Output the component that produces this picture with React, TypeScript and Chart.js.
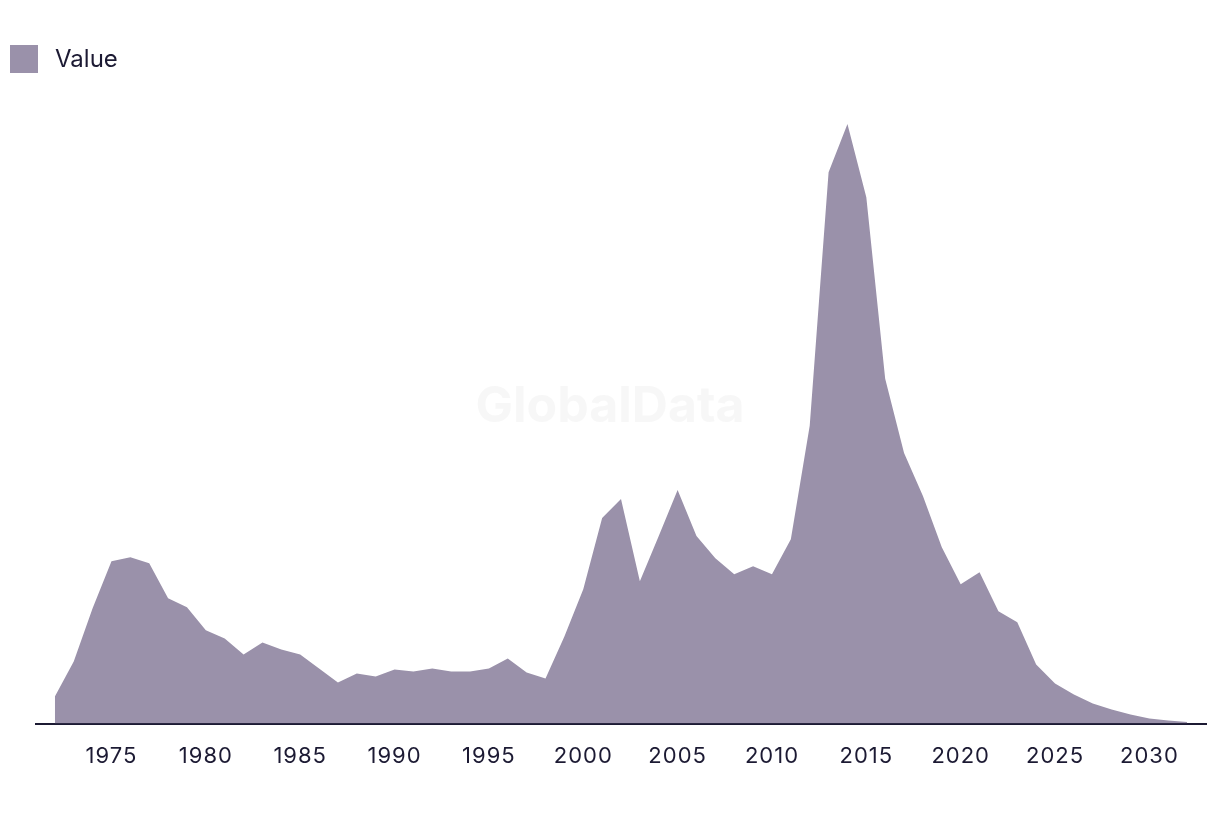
import React, { useEffect, useRef } from "react";
import { Chart, registerables } from "chart.js";

Chart.register(...registerables);

const years: string[] = [
  "1971", "1972", "1973", "1974", "1975", "1976", "1977", "1978", "1979", "1980",
  "1981", "1982", "1983", "1984", "1985", "1986", "1987", "1988", "1989", "1990",
  "1991", "1992", "1993", "1994", "1995", "1996", "1997", "1998", "1999", "2000",
  "2001", "2002", "2003", "2004", "2005", "2006", "2007", "2008", "2009", "2010",
  "2011", "2012", "2013", "2014", "2015", "2016", "2017", "2018", "2019", "2020",
  "2021", "2022", "2023", "2024", "2025", "2026", "2027", "2028", "2029", "2030",
  "2031", "2032", "2033",
];

const values: (number | null)[] = [
  null, 27, 62, 115, 162, 166, 160, 125, 116, 93,
  85, 69, 81, 74, 69, 55, 41, 50, 47, 54,
  52, 55, 52, 52, 55, 65, 51, 45, 87, 134,
  205, 224, 142, 187, 233, 187, 165, 149, 157, 149,
  184, 297, 550, 598, 525, 344, 270, 227, 176, 139,
  151, 112, 101, 59, 40, 29, 20, 14, 9, 5,
  3, 1.5, null,
];

const seriesName = "Value";
const fillColor = "rgb(154,145,170)";
const inkColor = "#1c1a33";

const watermark = {
  id: "watermark",
  beforeDraw(chart: any) {
    const ctx = chart.ctx;
    try { (ctx as any).letterSpacing = "1px"; } catch (e) {}
  },
  beforeDatasetsDraw(chart: any) {
    const { ctx } = chart;
    ctx.save();
    try { (ctx as any).letterSpacing = "0px"; } catch (e) {}
    ctx.font = "bold 50px Inter, 'Noto Sans', sans-serif";
    ctx.fillStyle = "rgba(238,238,238,0.45)";
    ctx.textAlign = "center";
    ctx.textBaseline = "middle";
    ctx.fillText("GlobalData", 610, 407);
    ctx.restore();
  },
};

export default function App() {
  const canvasRef = useRef<HTMLCanvasElement | null>(null);

  useEffect(() => {
    if (!canvasRef.current) return;
    const chart = new Chart(canvasRef.current, {
      type: "line",
      data: {
        labels: years,
        datasets: [
          {
            label: seriesName,
            data: values,
            backgroundColor: fillColor,
            borderColor: fillColor,
            borderWidth: 0,
            fill: "origin",
            pointRadius: 0,
            tension: 0,
            spanGaps: false,
          },
        ],
      },
      options: {
        animation: false,
        responsive: false,
        maintainAspectRatio: false,
        layout: { padding: { top: 100, left: 36, right: 14, bottom: 38 } },
        plugins: {
          legend: { display: false },
          tooltip: { enabled: false },
        },
        scales: {
          x: {
            type: "category",
            offset: false,
            grid: {
              display: true,
              drawOnChartArea: false,
              drawTicks: true,
              tickLength: 14,
              color: "rgba(0,0,0,0)",
              tickColor: "rgba(0,0,0,0)",
            },
            border: { display: true, color: inkColor, width: 2 },
            ticks: {
              autoSkip: false,
              maxRotation: 0,
              minRotation: 0,
              padding: 6,
              color: inkColor,
              font: { family: "Inter, 'Noto Sans', sans-serif", size: 22 },
              callback: function (_v: any, i: number) {
                const y = parseInt(years[i], 10);
                return y % 5 === 0 ? String(y) : "";
              },
            },
          },
          y: {
            display: false,
            min: 0,
            max: 622,
          },
        },
      },
      plugins: [watermark],
    });
    return () => chart.destroy();
  }, []);

  return (
    <div style={{ position: "absolute", left: 0, top: 0, width: 1220, height: 814, background: "#fff" }}>
      <canvas ref={canvasRef} width={1220} height={814} style={{ position: "absolute", left: 0, top: 0 }} />
      <div
        style={{
          position: "absolute",
          left: 10,
          top: 45,
          display: "flex",
          alignItems: "center",
          fontFamily: "Inter, 'Noto Sans', sans-serif",
          fontSize: 24,
          color: inkColor,
        }}
      >
        <span style={{ display: "inline-block", width: 28, height: 28, background: fillColor }} />
        <span style={{ marginLeft: 17, lineHeight: "28px" }}>{seriesName}</span>
      </div>
    </div>
  );
}
